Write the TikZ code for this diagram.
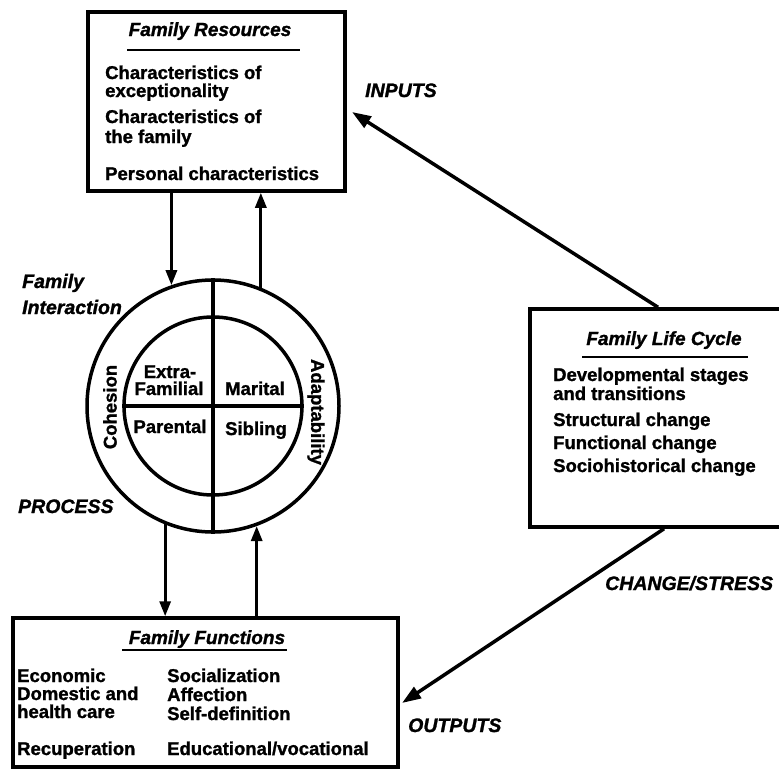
\documentclass[tikz,border=0pt]{standalone}
\usepackage{fontspec}
\setmainfont{Liberation Sans}[BoldFeatures={FakeBold=1.3},BoldItalicFeatures={FakeBold=1.3}]
\usetikzlibrary{arrows.meta,calc}
\begin{document}
\begin{tikzpicture}[x=1pt,y=-1pt,
  box/.style={draw, rectangle, line width=3.5pt, inner sep=0pt},
  ring/.style={draw, circle, line width=3.5pt, inner sep=0pt},
  item/.style={anchor=base west, inner sep=0pt, font=\bfseries\fontsize{18.5}{20}\selectfont},
  qtext/.style={anchor=base, inner sep=0pt, font=\bfseries\fontsize{18.5}{20}\selectfont},
  ttl/.style={anchor=base, inner sep=0pt, font=\bfseries\itshape\fontsize{19}{21}\selectfont},
  lbl/.style={anchor=base west, inner sep=0pt, font=\bfseries\itshape\fontsize{19.5}{21}\selectfont},
  uline/.style={line width=2.5pt},
  divline/.style={line width=3.5pt},
  arr/.style={line width=3pt, -{Triangle[length=15pt,width=11pt]}},
  arrlong/.style={line width=3.5pt, -{Triangle[length=19pt,width=13pt]}}
]
\useasboundingbox (0,0) rectangle (779,771);
\fill[white] (0,0) rectangle (779,771);
\clip (0,0) rectangle (779,771);

% boxes
\node[box, minimum width=257pt, minimum height=179pt] (res) at (216.5,101.5) {};
\node[box, minimum width=260pt, minimum height=218pt] (lc) at (660,418) {};
\node[box, minimum width=385pt, minimum height=149pt] (fun) at (205.5,692.5) {};

% Family Resources
\node[ttl] (resT) at (210,36) {Family Resources};
\draw[uline] (127,50) -- (300,50);
\node[item] (r1) at (105,79) {Characteristics of};
\node[item] (r2) at (105,97) {exceptionality};
\node[item] (r3) at (105,123) {Characteristics of};
\node[item] (r4) at (105,143) {the family};
\node[item] (r5) at (105,180) {Personal characteristics};

% Family Life Cycle
\node[ttl] (lcT) at (664,345) {Family Life Cycle};
\draw[uline] (582,357) -- (748,357);
\node[item] (l1) at (553,381) {Developmental stages};
\node[item] (l2) at (553,400) {and transitions};
\node[item] (l3) at (553,426) {Structural change};
\node[item] (l4) at (553,449) {Functional change};
\node[item] (l5) at (553,472) {Sociohistorical change};

% Family Functions
\node[ttl] (funT) at (207,644) {Family Functions};
\draw[uline] (122,650) -- (287,650);
\node[item] (f1) at (17,682) {Economic};
\node[item] (f2) at (17,700) {Domestic and};
\node[item] (f3) at (17,718) {health care};
\node[item] (f4) at (17,755) {Recuperation};
\node[item] (f5) at (167,682) {Socialization};
\node[item] (f6) at (167,701) {Affection};
\node[item] (f7) at (167,720) {Self-definition};
\node[item] (f8) at (167,755) {Educational/vocational};

% circle
\node[ring, minimum size=252pt] (circ) at (213,406) {};
\node[ring, minimum size=178pt] (inner) at (213,406) {};
\draw[divline] (circ.north) -- (circ.south);
\draw[divline] (inner.west) -- (inner.east);
\node[qtext] (q1) at (170,378) {Extra-};
\node[qtext] (q2) at (169,395) {Familial};
\node[qtext] (q3) at (170,433) {Parental};
\node[qtext] (q4) at (255,395) {Marital};
\node[qtext] (q5) at (256,435) {Sibling};
\node[inner sep=0pt, rotate=90, font=\bfseries\fontsize{18.5}{20}\selectfont] (coh) at (110,407) {Cohesion};
\node[inner sep=0pt, rotate=-90, font=\bfseries\fontsize{18.5}{20}\selectfont] (adp) at (316,412) {Adaptability};

% labels
\node[lbl] (inp) at (365,97) {INPUTS};
\node[lbl] (fi1) at (22,288) {Family};
\node[lbl] (fi2) at (22,314) {Interaction};
\node[lbl] (proc) at (18,513) {PROCESS};
\node[lbl] (chs) at (605,590) {CHANGE/STRESS};
\node[lbl] (outp) at (408,732) {OUTPUTS};

% vertical arrows
\draw[arr] (res.south -| circ.109) -- (circ.109);
\draw[arr] (circ.68) -- (res.south -| circ.68);
\draw[arr] (circ.248) -- (fun.north -| circ.248);
\draw[arr] (fun.north -| circ.290) -- (circ.290);

% diagonal arrows
\coordinate (inX) at (658,0);
\coordinate (inTip) at (352,112);
\draw[arrlong] (lc.north -| inX) -- (inTip);
\coordinate (chX) at (664,0);
\coordinate (chTip) at (402,703);
\draw[arrlong] (lc.south -| chX) -- (chTip);
\end{tikzpicture}
\end{document}
